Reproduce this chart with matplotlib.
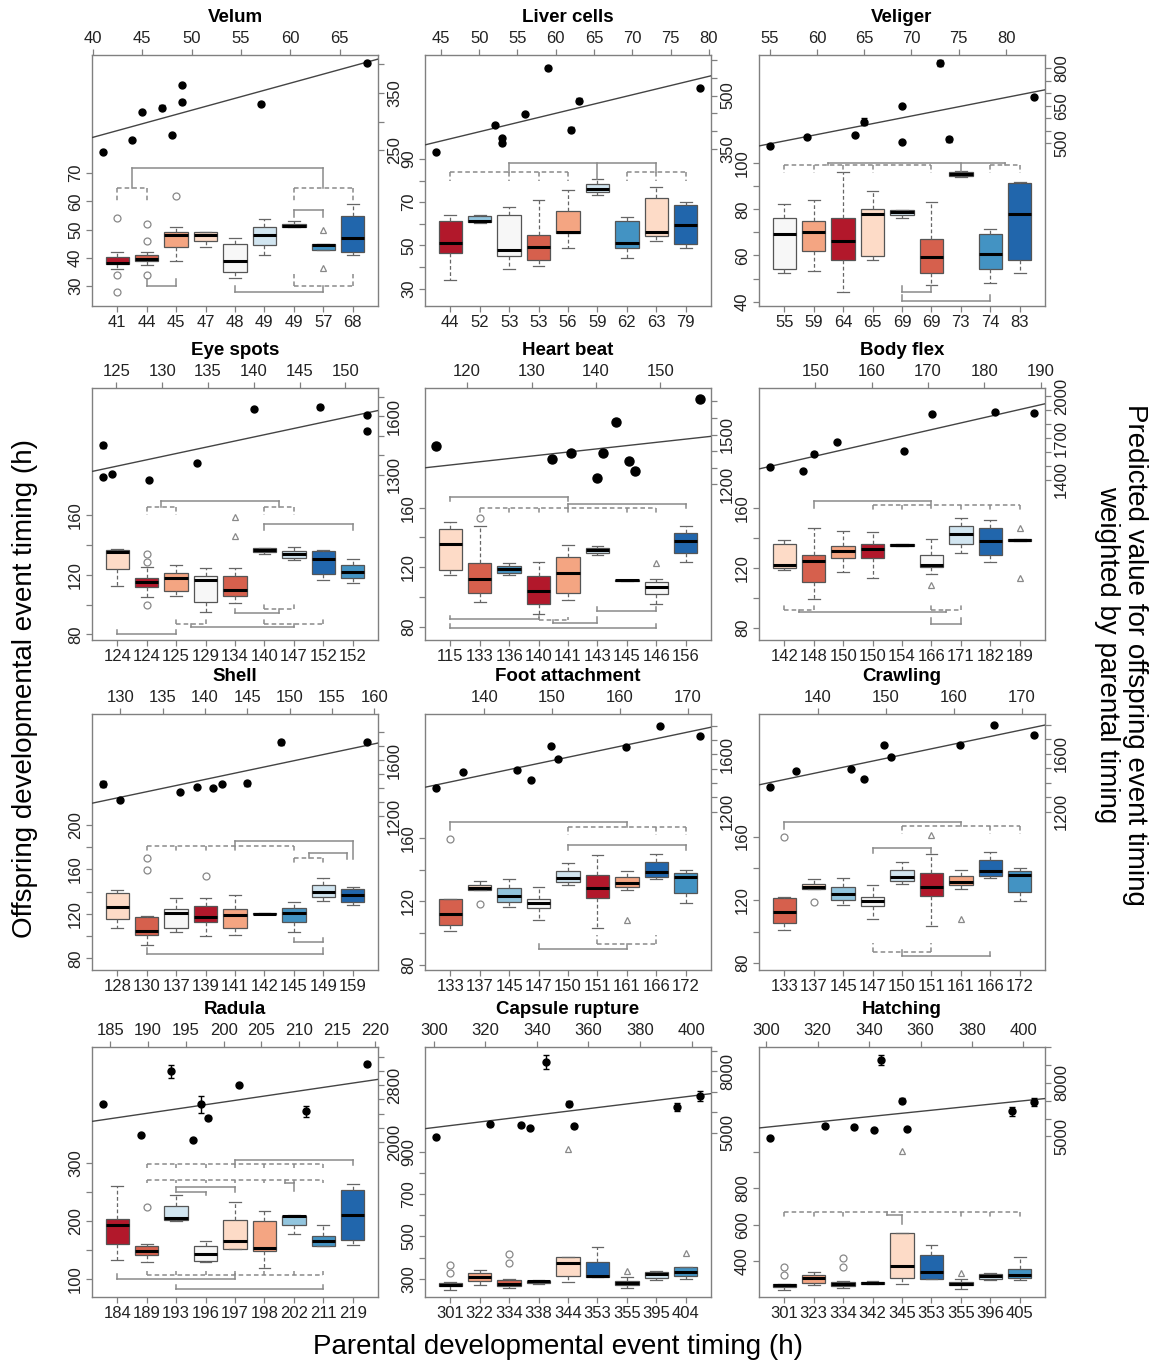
import numpy as np
import matplotlib.pyplot as plt

plt.rcParams['font.family'] = ['Liberation Sans', 'DejaVu Sans']

# RdBu 9-class palette, boxes index into it
pal = ['#B2182B', '#D6604D', '#F4A582', '#FDDBC7', '#F7F7F7',
       '#D1E5F0', '#92C5DE', '#4393C3', '#2166AC']

# box stats are (low whisker, q1, median, q3, high whisker)
# outliers are (box number, value, marker)
# brackets are (x positions, y, leg ends, dashed)

# ---- Velum
velum_labels = ['41', '44', '45', '47', '48', '49', '49', '57', '68']
velum_stats = [(35.9, 37.7, 38.3, 40.1, 42.2), (37.5, 38.7, 39.7, 40.9, 41.9),
               (38.9, 43.9, 48.0, 49.2, 50.8), (43.9, 46.0, 48.0, 49.1, 49.1),
               (33.0, 35.0, 39.0, 44.8, 46.9), (40.9, 44.5, 48.0, 51.0, 53.7),
               (50.8, 50.8, 51.2, 52.0, 52.9), (42.9, 42.9, 44.5, 44.8, 44.8),
               (41.0, 41.9, 47.0, 54.9, 59.1)]
velum_cols = [0, 1, 2, 3, 4, 5, 6, 7, 8]
velum_out = [(1, 54, 'o'), (1, 33.9, 'o'), (1, 28, 'o'), (2, 52, 'o'), (2, 46, 'o'),
             (2, 33.9, 'o'), (3, 62, 'o'), (8, 50, '^'), (8, 36.2, '^')]
velum_px = [41, 44, 45, 47, 48, 49, 49, 57, 67.8]
velum_py = [246.5, 268.6, 317.4, 324.4, 276.7, 362.8, 334.3, 331.4, 401.2]
velum_pe = [0, 0, 0, 4, 0, 0, 3, 3, 0]
velum_fit = (84.2, 4.71)
velum_br = [([1, 2], 64.8, [60.3, 60.3], True), ([7, 9], 64.8, [60.3, 60.3], True),
            ([1.5, 8], 71.9, [64.8, 64.8], False), ([7, 8], 56.9, [54.6, 54.6], False),
            ([2, 3], 30.0, [32.4, 32.4], False), ([5, 8], 28.0, [30.0, 30.0], False),
            ([7, 9], 30.0, [34.2, 34.2], True)]

# ---- Liver cells
liver_labels = ['44', '52', '53', '53', '56', '59', '62', '63', '79']
liver_stats = [(33.8, 46.5, 51.1, 61.2, 64.2), (60.3, 60.6, 61.1, 63.8, 64.2),
               (39.2, 45.1, 48.0, 64.2, 67.7), (40.3, 43.1, 49.2, 54.9, 70.9),
               (48.9, 55.7, 56.2, 66.0, 75.8), (73.1, 74.6, 76.2, 78.5, 80.8),
               (44.2, 48.9, 51.1, 61.2, 63.1), (52.0, 54.2, 56.2, 72.0, 76.9),
               (48.9, 50.5, 59.5, 68.5, 70.0)]
liver_cols = [0, 6, 4, 1, 2, 5, 7, 3, 8]
liver_out = []
liver_px = [44.3, 52, 53, 53, 56, 59, 62, 63, 78.9]
liver_py = [340.6, 417.5, 380, 366, 448.4, 577.7, 404.4, 485.9, 520.6]
liver_pe = [0, 0, 4, 4, 0, 6, 6, 8, 3]
liver_fit = (138, 5.2)
liver_br = [([1, 3, 4, 5], 83.8, [80] * 4, True), ([7, 8, 9], 83.8, [80] * 3, True),
            ([3, 6, 8], 88.2, [83.8, 80.8, 83.8], False)]

# ---- Veliger
veliger_labels = ['55', '59', '64', '65', '69', '69', '73', '74', '83']
veliger_stats = [(52.3, 54.3, 69.2, 76.1, 82.2), (53.4, 62.1, 70.3, 75.1, 84.1),
                 (44.3, 58.1, 66.3, 76.1, 96.1), (58.1, 59.9, 78.0, 80.0, 88.0),
                 (76.1, 77.6, 78.7, 79.5, 79.5), (47.2, 52.3, 59.2, 67.2, 83.1),
                 (93.9, 94.6, 95.3, 96.1, 96.8), (48.2, 54.3, 60.7, 69.2, 71.4),
                 (52.3, 58.1, 77.9, 91.6, 92.0)]
veliger_cols = [4, 2, 0, 3, 5, 1, 6, 7, 8]
veliger_out = []
veliger_px = [55, 59, 64, 65, 69, 69, 73, 74, 83]
veliger_py = [490.7, 526.7, 533.3, 586.7, 649.3, 506.7, 822.7, 516, 684]
veliger_pe = [0, 0, 0, 13, 0, 0, 12, 10, 0]
veliger_fit = (89.6, 7.42)
veliger_br = [([1, 2, 3, 4, 6], 99.2, [95.6] * 5, True),
              ([2.5, 7, 8.5], 99.9, [99.2, 96.8, 99.2], False),
              ([8, 9], 99.2, [95.6, 95.6], True),
              ([5, 6], 44.3, [46.8, 46.8], False), ([5, 8], 40.3, [42.9, 42.9], False)]

# ---- Eye spots
eye_labels = ['124', '124', '125', '129', '134', '140', '147', '152', '152']
eye_stats = [(112.8, 123.8, 135.7, 136.9, 137.5), (105.4, 112.1, 115.5, 118.2, 125.6),
             (105.8, 109.4, 117.8, 121.6, 126.7), (94.8, 102.0, 116.6, 119.1, 124.9),
             (100.9, 106.1, 109.9, 119.3, 124.9), (134.2, 135.7, 136.9, 138.0, 138.4),
             (129.9, 131.7, 133.9, 136.2, 139.1), (116.4, 120.7, 130.6, 136.2, 136.9),
             (114.8, 117.8, 121.8, 126.7, 130.8)]
eye_cols = [3, 0, 2, 4, 1, 6, 5, 8, 7]
eye_out = [(2, 133.9, 'o'), (2, 129, 'o'), (2, 99.8, 'o'), (5, 159.1, '^'), (5, 146.3, '^')]
eye_px = [123.5, 123.5, 124.5, 128.6, 133.8, 140, 147.2, 152.4, 152.4]
eye_py = [1291, 1451, 1303, 1271, 1363, 1636, 1648, 1605, 1523]
eye_pe = [0, 12, 0, 0, 0, 0, 10, 0, 10]
eye_fit = (90, 10.03)
eye_br = [([2.5, 6.5], 169.9, [165.4, 165.4], False), ([2, 3], 165.4, [160.4, 160.4], True),
          ([6, 7], 165.4, [160.4, 160.4], True), ([6, 9], 154.4, [150.3, 150.3], False),
          ([1, 3], 80.0, [82.9, 82.9], False), ([3, 4], 87.0, [90.3, 90.3], True),
          ([3.5, 7], 84.7, [87, 87], False), ([6, 8], 87.0, [90.8, 90.8], True),
          ([5, 6.5], 94.2, [97.1, 97.1], False), ([6, 7], 96.9, [102, 102], True)]

# ---- Heart beat
heart_labels = ['115', '133', '136', '140', '141', '143', '145', '146', '156']
heart_stats = [(114.9, 118.2, 135.9, 145.9, 150.6), (96.3, 103.0, 112.0, 122.5, 147.7),
               (114.9, 116.0, 118.7, 120.9, 122.9), (88.9, 95.2, 104.1, 114.4, 123.8),
               (98.1, 103.0, 116.0, 126.9, 135.0), (128.0, 129.8, 131.4, 133.2, 134.1),
               (110.6, 110.8, 111.1, 111.3, 111.5), (95.6, 101.9, 106.4, 110.4, 112.0),
               (123.8, 129.8, 137.7, 143.2, 147.7)]
heart_cols = [3, 1, 7, 0, 2, 5, 6, 4, 8]
heart_out = [(2, 153.1, 'o'), (8, 123.1, '^')]
heart_px = [115.1, 133.1, 136.1, 140.2, 141.1, 143.1, 145.1, 146.1, 156.2]
heart_py = [1430, 1350, 1386, 1240, 1386, 1574, 1340, 1282, 1712]
heart_pe = [0] * 9
heart_fit = (816.8, 4.26)
heart_br = [([1, 5], 167.4, [164.5, 164.5], False),
            ([2, 3, 4, 5, 7, 8], 160.0, [156.2] * 6, True),
            ([5, 9], 162.7, [160, 159.8], False), ([1, 4], 85.1, [87.4, 87.4], False),
            ([4, 5], 84.5, [86.7, 86.7], True), ([4.5, 6], 82.2, [84.5, 86.3], False),
            ([6, 8], 90.7, [93, 93], False), ([1, 8], 79.1, [81.8, 81.8], False)]

# ---- Body flex
body_labels = ['142', '148', '150', '150', '154', '166', '171', '182', '189']
body_stats = [(118.7, 119.8, 122.0, 135.9, 138.8), (99.0, 110.8, 124.9, 128.7, 147.0),
              (117.1, 126.9, 131.4, 134.7, 144.8), (113.5, 126.5, 132.5, 136.1, 143.9),
              (134.3, 134.7, 135.4, 136.1, 136.3), (116.2, 120.5, 121.8, 128.9, 139.0),
              (129.8, 136.1, 142.8, 148.2, 153.7), (124.0, 128.9, 138.3, 146.6, 151.7),
              (137.7, 138.1, 138.8, 139.2, 139.4)]
body_cols = [3, 1, 2, 0, 7, 4, 5, 8, 6]
body_out = [(6, 108.6, '^'), (9, 146.6, '^'), (9, 113.1, '^')]
body_px = [141.9, 147.9, 149.8, 153.9, 165.8, 170.8, 181.9, 188.9]
body_py = [1489, 1460, 1587, 1671, 1604, 1875, 1885, 1880]
body_pe = [0, 0, 12, 0, 0, 0, 0, 0]
body_fit = (185.7, 9.23)
body_br = [([2, 6], 164.5, [160, 160], False), ([4, 5, 7, 8, 9], 161.8, [157.8] * 5, True),
           ([1, 2], 91.8, [95.6, 95.6], True), ([1.5, 6.5], 90.7, [91.8, 91.8], False),
           ([6, 7], 91.8, [95.6, 95.6], True), ([6, 7], 82.2, [86.3, 86.3], False)]

# ---- Shell
shell_labels = ['128', '130', '137', '139', '141', '142', '145', '149', '159']
shell_stats = [(107.6, 115.6, 125.9, 138.4, 141.6), (91.9, 101.3, 104.6, 117.6, 118.5),
               (103.7, 107.3, 120.9, 124.4, 133.9), (99.9, 112.6, 117.0, 127.4, 133.9),
               (100.7, 107.6, 119.1, 124.4, 136.9), (119.4, 119.7, 120.0, 120.3, 120.6),
               (103.7, 112.6, 120.6, 125.0, 130.4), (131.9, 135.4, 139.9, 145.8, 151.7),
               (128.0, 130.4, 137.2, 142.2, 144.3)]
shell_cols = [3, 1, 4, 0, 2, 6, 7, 5, 8]
shell_out = [(2, 170.4, 'o'), (2, 159.4, 'o'), (4, 153.5, 'o')]
shell_px = [127.9, 129.9, 137, 139, 141, 142, 145, 149, 159.2]
shell_py = [1431, 1318, 1376, 1412, 1400, 1431, 1435, 1729, 1729]
shell_pe = [20, 0, 0, 0, 8, 0, 18, 18, 8]
shell_fit = (-312.3, 12.68)
shell_br = [([2, 3, 4, 5, 7], 181.3, [176.3] * 5, True), ([5, 9], 185.2, [181.3, 168.9], False),
            ([7, 8], 169.8, [164.4, 164.4], True), ([7.5, 8.8], 174.2, [169.8, 168.9], False),
            ([7, 8], 94.8, [98.4, 98.4], False), ([2, 8], 84.4, [88.9, 88.9], False)]

# ---- Foot attachment
foot_labels = ['133', '137', '145', '147', '150', '151', '161', '166', '172']
foot_stats = [(101.2, 105.1, 112.3, 121.4, 121.8), (127.1, 127.1, 128.2, 130.3, 133.1),
              (116.5, 119.9, 123.5, 128.4, 134.1), (108.2, 116.1, 119.3, 121.8, 129.3),
              (130.3, 132.0, 134.6, 139.0, 144.1), (103.4, 122.5, 128.4, 136.7, 149.0),
              (127.1, 129.3, 131.4, 135.2, 139.0), (134.1, 135.2, 138.4, 145.2, 150.0),
              (119.3, 125.2, 135.6, 138.0, 140.1)]
foot_cols = [1, 3, 6, 4, 5, 0, 2, 8, 7]
foot_out = [(1, 159.6, 'o'), (2, 118.6, 'o'), (7, 108.2, '^')]
foot_px = [132.8, 136.8, 144.8, 146.9, 149.8, 150.8, 160.9, 165.9, 171.9]
foot_py = [1365, 1478, 1489, 1424, 1659, 1565, 1652, 1795, 1725]
foot_pe = [0] * 9
foot_fit = (67.2, 9.93)
foot_br = [([1, 7], 169.8, [164.9, 167], False), ([5, 8, 9], 167.0, [161.7] * 3, True),
           ([5, 9], 155.4, [152.2, 152.2], False), ([4, 7], 90.2, [93.2, 93.2], False),
           ([6, 8], 93.4, [99.1, 99.1], True)]

# ---- Crawling
crawl_labels = ['133', '137', '145', '147', '150', '151', '161', '166', '172']
crawl_stats = [(101.2, 105.1, 112.3, 121.4, 121.8), (127.1, 127.1, 128.2, 130.3, 133.1),
               (116.5, 119.9, 123.5, 128.4, 134.1), (108.2, 116.1, 119.3, 121.8, 129.3),
               (130.3, 132.0, 134.6, 139.0, 144.1), (103.4, 122.5, 128.4, 136.7, 149.0),
               (127.1, 129.3, 131.4, 135.2, 139.0), (134.1, 135.2, 138.4, 145.2, 150.0),
               (119.3, 125.2, 135.6, 138.0, 140.1)]
crawl_cols = [1, 3, 6, 4, 5, 0, 2, 8, 7]
crawl_out = [(1, 159.6, 'o'), (2, 118.6, 'o'), (6, 161.1, '^'), (7, 108.0, '^')]
crawl_px = [132.9, 136.8, 144.9, 146.8, 149.8, 150.8, 160.9, 165.9, 171.9]
crawl_py = [1372, 1482, 1494, 1428, 1659, 1581, 1659, 1800, 1729]
crawl_pe = [0] * 9
crawl_fit = (97, 9.81)
crawl_br = [([1, 7], 169.2, [164.9, 166.7], False), ([5, 8, 9], 166.7, [161.7] * 3, True),
            ([4, 6], 152.7, [149.5, 149.5], False), ([4, 6], 87.1, [92.9, 92.9], True),
            ([5, 8], 84.7, [88.2, 87.1], False)]

# ---- Radula
radula_labels = ['184', '189', '193', '196', '197', '198', '202', '211', '219']
radula_stats = [(132.7, 161.3, 192.8, 204.3, 259.9), (129.8, 141.3, 148.1, 156.7, 161.3),
                (199.7, 202.6, 206.0, 225.5, 244.4), (129.8, 130.9, 143.0, 157.3, 165.9),
                (151.6, 151.6, 165.9, 201.4, 233.0), (119.5, 148.7, 154.4, 200.3, 217.5),
                (178.5, 192.8, 208.3, 208.9, 210.0), (156.7, 156.7, 165.9, 173.9, 192.8),
                (158.5, 168.2, 211.2, 254.2, 264.5)]
radula_cols = [0, 1, 5, 4, 3, 2, 6, 7, 8]
radula_out = [(2, 224.4, 'o')]
radula_px = [184, 189.1, 193, 196, 197, 197.9, 202, 210.9, 219]
radula_py = [2541, 2104, 2998, 2024, 2532, 2339, 2809, 2433, 3106]
radula_pe = [15, 15, 95, 12, 120, 35, 0, 80, 30]
radula_fit = (-574, 15.69)
radula_br = [([5, 9], 305.7, [297.7, 297.1], False),
             ([2, 3, 4, 5, 6, 7, 8], 297.7, [292] * 7, True),
             ([2, 3, 4, 5, 6, 7, 8], 270.2, [265] * 7, True),
             ([6.7, 7], 265.5, [270.2, 251.3], False),
             ([3, 5], 258.7, [250.1, 250.1], False), ([3, 4], 250.1, [250.1, 244.4], False),
             ([2, 3, 4, 5, 6, 7, 8], 108, [113.8] * 7, True),
             ([1, 5], 100, [109.7, 109.7], False), ([3, 8], 84, [90.8, 90.8], False)]

# ---- Capsule rupture
capsule_labels = ['301', '322', '334', '338', '344', '353', '355', '395', '404']
capsule_stats = [(247.9, 265.2, 271.6, 281.0, 284.0), (271.6, 288.9, 307.9, 328.4, 342.7),
                 (257.3, 265.2, 276.3, 292.1, 296.0), (276.3, 281.0, 287.4, 289.0, 292.0),
                 (284.2, 311.0, 374.2, 402.7, 402.7), (307.9, 307.9, 311.0, 379.0, 450.0),
                 (255.8, 268.4, 279.5, 289.0, 307.9), (292.1, 303.2, 320.5, 331.6, 334.8),
                 (296.8, 311.0, 331.6, 355.3, 355.3)]
capsule_cols = [0, 2, 1, 6, 3, 8, 4, 5, 7]
capsule_out = [(1, 366.4, 'o'), (1, 328.4, 'o'), (3, 418.5, 'o'), (3, 374.2, 'o'),
               (5, 913, '^'), (7, 336.3, '^'), (9, 421.6, '^')]
capsule_px = [300.7, 321.7, 333.7, 337.4, 343.6, 352.6, 354.5, 394.5, 403.4]
capsule_py = [4788, 5440, 5359, 5245, 8458, 6419, 5310, 6256, 6794]
capsule_pe = [60, 100, 80, 0, 330, 120, 80, 210, 250]
capsule_fit = (613, 15.45)
capsule_br = []

# ---- Hatching
hatch_labels = ['301', '323', '334', '342', '345', '353', '355', '396', '405']
hatch_stats = [(240.4, 258.7, 268.0, 277.0, 277.0), (271.6, 282.6, 308.3, 323.0, 341.3),
               (255.0, 262.4, 273.4, 286.2, 290.0), (273.4, 277.0, 282.6, 286.2, 290.0),
               (277.0, 308.3, 372.5, 556.0, 556.0), (304.6, 304.6, 341.3, 433.0, 488.0),
               (249.5, 268.0, 277.0, 286.2, 304.6), (299.1, 304.6, 317.4, 328.4, 335.8),
               (295.4, 308.3, 326.6, 356.0, 423.9)]
hatch_cols = [0, 2, 1, 6, 3, 8, 4, 5, 7]
hatch_out = [(1, 368.8, 'o'), (1, 323, 'o'), (3, 420, 'o'), (3, 368.8, 'o'),
             (5, 1002, '^'), (7, 335.8, '^')]
hatch_px = [301.3, 322.9, 334, 341.8, 344.8, 352.7, 354.6, 395.4, 404.3]
hatch_py = [4906, 5600, 5525, 5375, 9259, 7008, 5432, 6407, 6932]
hatch_pe = [0, 100, 80, 0, 280, 120, 0, 250, 220]
hatch_fit = (1066, 14.82)
hatch_br = [([1, 2, 3, 7, 8, 9], 667.9, [634.9] * 6, True),
            ([4.5, 5], 653.2, [667.9, 601.8], False)]

panels = [
    dict(title='Velum', labels=velum_labels, stats=velum_stats, cols=velum_cols, out=velum_out,
         px=velum_px, py=velum_py, pe=velum_pe, fit=velum_fit, br=velum_br,
         ylim=(22.9, 111.9), yt=[30, 40, 50, 60, 70], yl=[30, 40, 50, 60, 70],
         rlim=(-20.3, 415.7), rt=[250, 300, 350, 400], rl=[250, 350], tt=range(40, 66, 5)),
    dict(title='Liver cells', labels=liver_labels, stats=liver_stats, cols=liver_cols, out=liver_out,
         px=liver_px, py=liver_py, pe=liver_pe, fit=liver_fit, br=liver_br,
         ylim=(22, 138), yt=range(30, 91, 10), yl=[30, 50, 70, 90],
         rlim=(-92, 614), rt=range(350, 601, 50), rl=[350, 500], tt=range(45, 81, 5)),
    dict(title='Veliger', labels=veliger_labels, stats=veliger_stats, cols=veliger_cols, out=veliger_out,
         px=veliger_px, py=veliger_py, pe=veliger_pe, fit=veliger_fit, br=veliger_br,
         ylim=(38.1, 146.9), yt=range(40, 101, 10), yl=[40, 60, 80, 100],
         rlim=(-150.7, 853), rt=range(500, 801, 50), rl=[500, 650, 800], tt=range(55, 81, 5)),
    dict(title='Eye spots', labels=eye_labels, stats=eye_stats, cols=eye_cols, out=eye_out,
         px=eye_px, py=eye_py, pe=eye_pe, fit=eye_fit, br=eye_br,
         ylim=(76.2, 245.8), yt=range(80, 161, 20), yl=[80, 120, 160],
         rlim=(451, 1746), rt=range(1300, 1701, 100), rl=[1300, 1600], tt=range(125, 151, 5)),
    dict(title='Heart beat', labels=heart_labels, stats=heart_stats, cols=heart_cols, out=heart_out,
         px=heart_px, py=heart_py, pe=heart_pe, fit=heart_fit, br=heart_br, ms=6.5,
         ylim=(71.1, 240.4), yt=range(80, 161, 20), yl=[80, 120, 160],
         rlim=(264, 1780), rt=range(1200, 1701, 100), rl=[1200, 1500], tt=range(120, 151, 10)),
    dict(title='Body flex', labels=body_labels, stats=body_stats, cols=body_cols, out=body_out,
         px=body_px, py=body_py, pe=body_pe, fit=body_fit, br=body_br,
         ylim=(71.7, 240.4), yt=range(80, 161, 20), yl=[80, 120, 160],
         rlim=(248, 2060), rt=range(1400, 2001, 100), rl=[1400, 1700, 2000], tt=range(150, 191, 10)),
    dict(title='Shell', labels=shell_labels, stats=shell_stats, cols=shell_cols, out=shell_out,
         px=shell_px, py=shell_py, pe=shell_pe, fit=shell_fit, br=shell_br,
         ylim=(69.6, 299.3), yt=range(80, 201, 20), yl=[80, 120, 160, 200],
         rlim=(106, 1929), rt=range(1200, 1801, 100), rl=[1200, 1600], tt=range(130, 161, 5)),
    dict(title='Foot attachment', labels=foot_labels, stats=foot_stats, cols=foot_cols, out=foot_out,
         px=foot_px, py=foot_py, pe=foot_pe, fit=foot_fit, br=foot_br,
         ylim=(76.8, 238.2), yt=range(80, 161, 20), yl=[80, 120, 160],
         rlim=(94, 1882), rt=range(1200, 1801, 100), rl=[1200, 1600], tt=range(140, 171, 10)),
    dict(title='Crawling', labels=crawl_labels, stats=crawl_stats, cols=crawl_cols, out=crawl_out,
         px=crawl_px, py=crawl_py, pe=crawl_pe, fit=crawl_fit, br=crawl_br,
         ylim=(75.7, 237.4), yt=range(80, 161, 20), yl=[80, 120, 160],
         rlim=(106, 1875), rt=range(1200, 1801, 100), rl=[1200, 1600], tt=range(140, 171, 10)),
    dict(title='Radula', labels=radula_labels, stats=radula_stats, cols=radula_cols, out=radula_out,
         px=radula_px, py=radula_py, pe=radula_pe, fit=radula_fit, br=radula_br,
         ylim=(69.6, 499.4), yt=range(100, 301, 50), yl=[100, 200, 300],
         rlim=(-188, 3341), rt=range(2000, 3201, 200), rl=[2000, 2800], tt=range(185, 221, 5)),
    dict(title='Capsule rupture', labels=capsule_labels, stats=capsule_stats, cols=capsule_cols,
         out=capsule_out, px=capsule_px, py=capsule_py, pe=capsule_pe, fit=capsule_fit, br=capsule_br,
         ylim=(213, 1398), yt=range(300, 901, 100), yl=[300, 500, 700, 900],
         rlim=(-3042, 9192), rt=range(5000, 9001, 1000), rl=[5000, 8000], tt=range(300, 401, 20)),
    dict(title='Hatching', labels=hatch_labels, stats=hatch_stats, cols=hatch_cols, out=hatch_out,
         px=hatch_px, py=hatch_py, pe=hatch_pe, fit=hatch_fit, br=hatch_br,
         ylim=(203.7, 1574), yt=range(400, 1001, 200), yl=[400, 600, 800],
         rlim=(-4006, 10009), rt=range(5000, 10001, 1000), rl=[5000, 8000], tt=range(300, 401, 20)),
]

W, H = 1163, 1362
fig = plt.figure(figsize=(W / 100, H / 100), dpi=100)

row_top = [55, 388, 714, 1047]
row_bot = [306, 640, 970, 1297]
col_left = [92, 425, 759]
col_right = [378, 711, 1045]

frame_col = '#808080'
line_col = '#8a8a8a'
dash = (0, (3, 2))


def style_axis(a):
    for s in a.spines.values():
        s.set_color(frame_col)
        s.set_linewidth(1.0)
    a.tick_params(direction='out', length=4.5, width=0.9, color=frame_col,
                  labelsize=12, pad=2, labelcolor='#222')


for k, p in enumerate(panels):
    r, c = divmod(k, 3)
    rect = [col_left[c] / W, 1 - row_bot[r] / H,
            (col_right[c] - col_left[c]) / W, (row_bot[r] - row_top[r]) / H]

    ax = fig.add_axes(rect, label='box%d' % k)
    stats = [dict(whislo=s[0], q1=s[1], med=s[2], q3=s[3], whishi=s[4], fliers=[])
             for s in p['stats']]
    bp = ax.bxp(stats, positions=range(1, 10), widths=0.8, patch_artist=True,
                showfliers=False, capwidths=0.4,
                boxprops=dict(edgecolor='#555555', linewidth=0.9),
                whiskerprops=dict(color='#666666', linestyle=dash, linewidth=0.9),
                capprops=dict(color='#666666', linewidth=0.9),
                medianprops=dict(color='black', linewidth=2.2))
    for patch, ci in zip(bp['boxes'], p['cols']):
        patch.set_facecolor(pal[ci])

    for i, v, m in p['out']:
        ax.plot(i, v, marker=m, mfc='none', mec='#888888', ms=5, mew=0.9, ls='none')

    for xs, y, legs, dashed in p['br']:
        ls = dash if dashed else '-'
        ax.plot([min(xs), max(xs)], [y, y], color=line_col, lw=1.1, ls=ls)
        for x, l in zip(xs, legs):
            ax.plot([x, x], [y, l], color=line_col, lw=1.1, ls=ls)

    ax.set_xlim(0.14, 9.86)
    ax.set_ylim(*p['ylim'])
    ax.set_xticks(range(1, 10))
    ax.set_xticklabels(p['labels'])
    ax.set_yticks(list(p['yt']))
    ax.set_yticklabels([str(t) if t in p['yl'] else '' for t in p['yt']],
                       rotation=90, va='center')
    style_axis(ax)
    ax.annotate(p['title'], xy=(0.5, 1), xycoords='axes fraction', xytext=(0, 27),
                textcoords='offset points', ha='center', va='center',
                fontsize=13.5, fontweight='bold')

    # points and fitted line, top and right axes
    ax2 = fig.add_axes(rect, label='pts%d' % k, frameon=False)
    ax2.patch.set_visible(False)
    px = np.array(p['px'])
    span = px.max() - px.min()
    xl = (px.min() - 0.04 * span, px.max() + 0.04 * span)
    a, b = p['fit']
    xx = np.array(xl)
    ax2.plot(xx, a + b * xx, color='#444444', lw=1.0)
    ax2.errorbar(px, p['py'], yerr=p['pe'], fmt='o', color='black',
                 ms=p.get('ms', 5), capsize=2, elinewidth=1, capthick=1)
    ax2.set_xlim(*xl)
    ax2.set_ylim(*p['rlim'])
    ax2.xaxis.tick_top()
    ax2.yaxis.tick_right()
    ax2.set_xticks(list(p['tt']))
    ax2.set_yticks(list(p['rt']))
    ax2.set_yticklabels([str(t) if t in p['rl'] else '' for t in p['rt']],
                        rotation=90, va='center')
    style_axis(ax2)

fig.text(25 / W, 1 - 688 / H, 'Offspring developmental event timing (h)',
         rotation=90, ha='center', va='center', fontsize=20)
fig.text(558 / W, 1 - 1347 / H, 'Parental developmental event timing (h)',
         ha='center', va='center', fontsize=20)
fig.text(1121 / W, 1 - 655 / H,
         'Predicted value for offspring event timing\nweighted by parental timing',
         rotation=270, ha='center', va='center', multialignment='center',
         fontsize=20, linespacing=1.1)

fig.savefig('out.png', dpi=100)
